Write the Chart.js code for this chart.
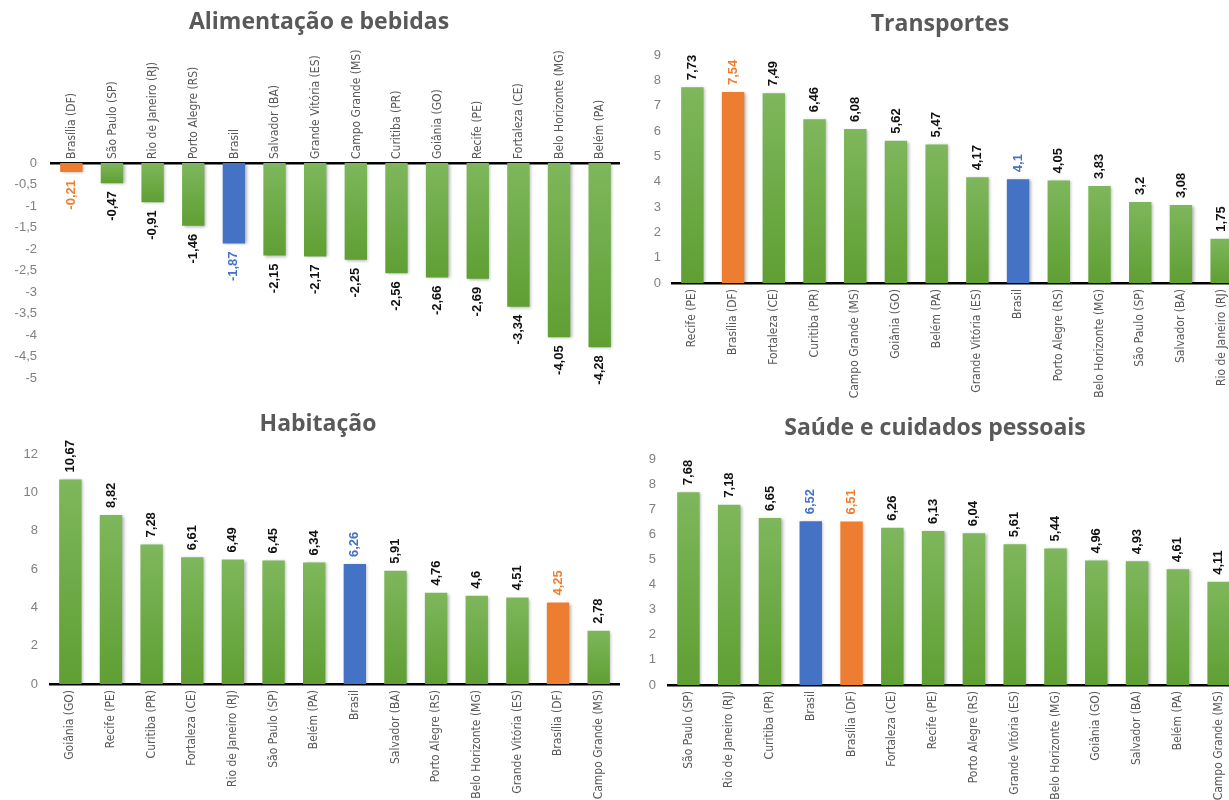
<!DOCTYPE html>
<html lang="pt-BR">
<head>
<meta charset="utf-8">
<title>Variação por região metropolitana</title>
<script src="https://cdn.jsdelivr.net/npm/chart.js@4.4.1/dist/chart.umd.min.js"></script>
<style>
  body { margin: 0; background: #fff; }
  #quadro { position: relative; width: 1229px; height: 800px; overflow: hidden; }
  #quadro canvas { position: absolute; }
</style>
</head>
<body>
<div id="quadro">
  <canvas id="gAlim" width="620" height="400" style="left:0;top:0"></canvas>
  <canvas id="gTrans" width="640" height="400" style="left:615px;top:0"></canvas>
  <canvas id="gHab" width="620" height="400" style="left:0;top:400px"></canvas>
  <canvas id="gSaude" width="640" height="400" style="left:615px;top:400px"></canvas>
</div>
<script>
// dados de cada painel
const alimCats = ['Brasília (DF)', 'São Paulo (SP)', 'Rio de Janeiro (RJ)', 'Porto Alegre (RS)', 'Brasil', 'Salvador (BA)', 'Grande Vitória (ES)', 'Campo Grande (MS)', 'Curitiba (PR)', 'Goiânia (GO)', 'Recife (PE)', 'Fortaleza (CE)', 'Belo Horizonte (MG)', 'Belém (PA)'];
const alimVals = [-0.21, -0.47, -0.91, -1.46, -1.87, -2.15, -2.17, -2.25, -2.56, -2.66, -2.69, -3.34, -4.05, -4.28];
const alimEixo = [-5, 0, 0.5]; // min, max, passo

const transCats = ['Recife (PE)', 'Brasília (DF)', 'Fortaleza (CE)', 'Curitiba (PR)', 'Campo Grande (MS)', 'Goiânia (GO)', 'Belém (PA)', 'Grande Vitória (ES)', 'Brasil', 'Porto Alegre (RS)', 'Belo Horizonte (MG)', 'São Paulo (SP)', 'Salvador (BA)', 'Rio de Janeiro (RJ)'];
const transVals = [7.73, 7.54, 7.49, 6.46, 6.08, 5.62, 5.47, 4.17, 4.1, 4.05, 3.83, 3.2, 3.08, 1.75];
const transEixo = [0, 9, 1];

const habCats = ['Goiânia (GO)', 'Recife (PE)', 'Curitiba (PR)', 'Fortaleza (CE)', 'Rio de Janeiro (RJ)', 'São Paulo (SP)', 'Belém (PA)', 'Brasil', 'Salvador (BA)', 'Porto Alegre (RS)', 'Belo Horizonte (MG)', 'Grande Vitória (ES)', 'Brasília (DF)', 'Campo Grande (MS)'];
const habVals = [10.67, 8.82, 7.28, 6.61, 6.49, 6.45, 6.34, 6.26, 5.91, 4.76, 4.6, 4.51, 4.25, 2.78];
const habEixo = [0, 12, 2];

const saudeCats = ['São Paulo (SP)', 'Rio de Janeiro (RJ)', 'Curitiba (PR)', 'Brasil', 'Brasília (DF)', 'Fortaleza (CE)', 'Recife (PE)', 'Porto Alegre (RS)', 'Grande Vitória (ES)', 'Belo Horizonte (MG)', 'Goiânia (GO)', 'Salvador (BA)', 'Belém (PA)', 'Campo Grande (MS)'];
const saudeVals = [7.68, 7.18, 6.65, 6.52, 6.51, 6.26, 6.13, 6.04, 5.61, 5.44, 4.96, 4.93, 4.61, 4.11];
const saudeEixo = [0, 9, 1];

const VERDE_CLARO = '#7eb75c', VERDE_ESCURO = '#5f9f33', VERDE = '#6aab44';
const LARANJA = '#ed7d31', AZUL = '#4472c4';
const FONTE_EIXO = '"Liberation Sans Narrow", "DejaVu Sans Condensed", Arial, sans-serif';
const FONTE_ROTULO = '"Liberation Sans", Arial, sans-serif';

const virgula = v => String(v).replace('.', ',');

function corDestaque(cat) {
    if (cat === 'Brasil') return AZUL;
    if (cat === 'Brasília (DF)') return LARANJA;
    return null;
}

// degradê vertical em cada barra verde
function fundoBarra(ctx) {
    const chart = ctx.chart;
    const fixa = corDestaque(chart.data.labels[ctx.dataIndex]);
    if (fixa) return fixa;
    const y = chart.scales.y;
    if (!chart.chartArea || !y) return VERDE;
    const a = y.getPixelForValue(ctx.raw), b = y.getPixelForValue(0);
    const topo = Math.min(a, b), fundo = Math.max(a, b);
    if (!isFinite(topo) || fundo - topo < 1) return VERDE;
    const g = chart.ctx.createLinearGradient(0, topo, 0, fundo);
    g.addColorStop(0, VERDE_CLARO);
    g.addColorStop(1, VERDE_ESCURO);
    return g;
}

const sombraBarras = {
    id: 'sombraBarras',
    beforeDatasetsDraw(chart) {
        const c = chart.ctx;
        c.save();
        c.shadowColor = 'rgba(0,0,0,0.3)';
        c.shadowBlur = 3;
        c.shadowOffsetX = 1.5;
        c.shadowOffsetY = 1;
    },
    afterDatasetsDraw(chart) { chart.ctx.restore(); }
};

// valores escritos na vertical, na ponta de cada barra
const rotulosValor = {
    id: 'rotulosValor',
    afterDatasetsDraw(chart) {
        const c = chart.ctx;
        const valores = chart.data.datasets[0].data;
        c.save();
        c.font = 'bold 13px ' + FONTE_ROTULO;
        c.textBaseline = 'middle';
        chart.getDatasetMeta(0).data.forEach((barra, i) => {
            const v = valores[i];
            const neg = v < 0;
            c.save();
            c.fillStyle = corDestaque(chart.data.labels[i]) || '#111';
            c.translate(barra.x, neg ? barra.y + 8 : barra.y - 7);
            c.rotate(-Math.PI / 2);
            c.textAlign = neg ? 'right' : 'left';
            c.fillText(virgula(v), 0, 0);
            c.restore();
        });
        c.restore();
    }
};

const tituloPainel = {
    id: 'tituloPainel',
    afterDraw(chart, args, opts) {
        const c = chart.ctx;
        c.save();
        c.font = 'bold 23px "Open Sans", sans-serif';
        c.fillStyle = '#595959';
        c.textAlign = 'center';
        c.textBaseline = 'middle';
        c.fillText(opts.texto, opts.x, opts.y);
        c.restore();
    }
};

function montarGrafico(id, titulo, cats, vals, eixo, lay) {
    return new Chart(document.getElementById(id), {
        type: 'bar',
        data: {
            labels: cats,
            datasets: [{ data: vals, backgroundColor: fundoBarra, barPercentage: 0.55, categoryPercentage: 1 }]
        },
        options: {
            responsive: false, animation: false, events: [],
            layout: { padding: lay.padding },
            plugins: {
                legend: { display: false },
                tooltip: { enabled: false },
                tituloPainel: { texto: titulo, x: lay.tx, y: lay.ty }
            },
            scales: {
                x: {
                    position: lay.posX, z: 1,
                    grid: { display: false, drawTicks: false },
                    border: { display: true, color: '#000', width: 2.5 },
                    ticks: {
                        autoSkip: false, minRotation: 90, maxRotation: 90,
                        padding: lay.padX, labelOffset: lay.desloc || 0,
                        color: '#595959', font: { family: FONTE_EIXO, size: 12 }
                    },
                    afterFit: s => { s.height = lay.altX; }
                },
                y: {
                    min: eixo[0], max: eixo[1],
                    grid: { display: false, drawTicks: false },
                    border: { display: false },
                    ticks: { stepSize: eixo[2], padding: lay.padY, color: '#808080', font: { family: FONTE_ROTULO, size: 13 }, callback: v => virgula(v) },
                    afterFit: s => { s.width = lay.largY; }
                }
            }
        },
        plugins: [sombraBarras, rotulosValor, tituloPainel]
    });
}

montarGrafico('gAlim', 'Alimentação e bebidas', alimCats, alimVals, alimEixo,
    { padding: { top: 34, left: 0, right: 0, bottom: 8 }, posX: 'top', altX: 129, largY: 51, padX: 4, padY: 14, desloc: 15, tx: 319, ty: 22 });
montarGrafico('gTrans', 'Transportes', transCats, transVals, transEixo,
    { padding: { top: 55, left: 0, right: 13, bottom: 0 }, posX: 'bottom', altX: 117, largY: 57, padX: 6, padY: 11, tx: 325, ty: 24 });
montarGrafico('gHab', 'Habitação', habCats, habVals, habEixo,
    { padding: { top: 54, left: 0, right: 1, bottom: 0 }, posX: 'bottom', altX: 116, largY: 50, padX: 6, padY: 12, tx: 318, ty: 24 });
montarGrafico('gSaude', 'Saúde e cuidados pessoais', saudeCats, saudeVals, saudeEixo,
    { padding: { top: 59, left: 0, right: 16, bottom: 0 }, posX: 'bottom', altX: 115, largY: 53, padX: 6, padY: 12, tx: 320, ty: 28 });
</script>
</body>
</html>
